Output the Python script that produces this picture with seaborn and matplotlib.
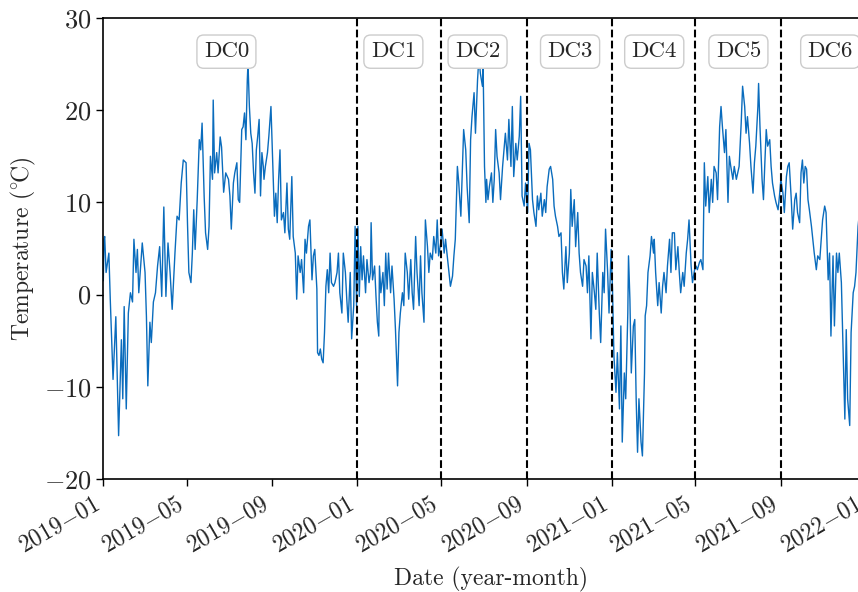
import numpy as np
import pandas as pd
import matplotlib
matplotlib.use('Agg')
import matplotlib.pyplot as plt
import matplotlib.dates as mdates
from matplotlib.ticker import FuncFormatter
import seaborn as sns

# ── DATA ─────────────────────────────────────────────────────
start_date = '2019-01-01'

# days since start_date
day_offset = [
    0, 1, 2, 4, 8, 10, 14, 18, 22, 26, 28, 30, 33, 36, 39, 42, 44, 47, 49, 51,
    56, 60, 62, 64, 67, 69, 72, 75, 78, 81, 84, 87, 90, 93, 96, 99, 103, 106, 109, 112,
    115, 119, 121, 123, 126, 128, 130, 132, 135, 138, 140, 142, 145, 147, 150, 152, 154, 157, 158, 160,
    163, 165, 168, 170, 173, 176,
    180, 182, 184, 187, 189, 192, 194, 196, 199, 201, 203, 205, 207, 208, 210, 212, 214, 216, 218, 220,
    222, 224, 226, 228, 230, 231, 233, 236, 238, 241, 243, 246, 248, 250, 252, 254, 256, 259, 261, 264,
    266, 268, 271, 273, 276, 278, 280, 283, 285, 288, 290, 292, 295, 297, 300, 302, 304, 307, 308, 310,
    312, 314, 316, 318, 320, 322, 324, 326, 328, 331, 333, 336, 338, 340, 343, 345, 348, 350, 352, 355,
    357, 360,
    362, 364, 366, 368, 370, 372, 374, 377, 379, 382, 384, 385, 387, 390, 392, 394, 396, 397, 399, 402,
    404, 406, 408, 410, 413, 415, 418, 420, 423, 425, 427, 430, 432, 434, 437, 439, 442, 444, 446, 449,
    451, 454, 456, 458, 461, 463, 466, 468, 470, 473, 475, 478, 480, 482, 485, 487, 490, 492, 494, 497,
    499, 502, 504, 506, 509, 511, 514, 516, 518, 521, 523, 526, 528, 530, 533, 535, 538, 540,
    542, 545, 546, 548, 550, 551, 553, 555, 558, 560, 562, 564, 566, 569, 571, 574, 576, 578, 581, 583,
    586, 588, 590, 593, 595, 598, 600, 602, 605, 607, 610, 612, 614, 617, 619, 622, 624, 626, 629, 631,
    634, 636, 638, 641, 643, 646, 648, 650, 653, 655, 658, 660, 662, 665, 667, 670, 672, 674, 677, 679,
    682, 684, 686, 689, 691, 694, 696, 698, 701, 703, 706, 708, 710, 713, 715, 718, 720,
    722, 725, 727, 730, 732, 734, 737, 739, 742, 744, 746, 749, 751, 754, 755, 757, 759, 762, 764, 766,
    768, 770, 773, 775, 778, 779, 781, 783, 786, 788, 791, 792, 794, 797, 799, 802, 804, 806, 809, 811,
    814, 816, 818, 821, 823, 826, 828, 830, 833, 835, 838, 840, 842, 845, 847, 850, 852, 854, 857, 859,
    862, 864, 866, 869, 871, 874, 876, 878, 881, 883, 886, 888, 890, 893, 895, 898, 900,
    902, 905, 907, 910, 912, 914, 917, 919, 922, 924, 926, 929, 931, 934, 936, 938, 941, 942, 944, 947,
    949, 951, 953, 955, 958, 960, 962, 965, 967, 970, 972, 974, 977, 979, 982, 984, 986, 989, 991, 994,
    996, 998, 1001, 1003, 1005, 1007, 1009, 1011, 1013, 1015, 1018, 1020, 1022, 1025, 1027, 1030, 1032, 1034, 1037, 1039,
    1042, 1044, 1046, 1049, 1051, 1054, 1056, 1058, 1061, 1063, 1066, 1068, 1070, 1073, 1075, 1078, 1080, 1082, 1085, 1087,
]

temp_c = [
    1.5, 6.0, 6.3, 2.4, 4.5, -0.5, -9.2, -2.4, -15.3, -4.9, -11.3, -1.3, -12.4, -2.0, 0.2, -0.8, 6.0, 2.4, 4.9, 0.2,
    5.6, 2.4, -2.4, -9.9, -3.0, -5.2, -0.8, 0.2, 3.1, 5.2, -0.2, 9.5, -0.2, 5.6, 2.4, -1.6, 4.5, 8.5, 8.1, 12.1,
    14.6, 14.3, 7.8, 2.4, 1.3, 4.5, 9.2, 4.9, 10.3, 16.8, 15.7, 18.6, 10.6, 6.7, 4.9, 7.4, 15.0, 12.5, 21.1, 13.2,
    15.4, 13.2, 17.1, 16.0, 11.1, 13.2,
    12.5, 10.7, 7.1, 12.1, 13.2, 14.3, 10.3, 10.0, 17.9, 18.2, 19.7, 16.8, 23.3, 25.1, 20.4, 17.5, 16.4, 13.2, 11.0, 15.7,
    17.2, 19.0, 10.7, 15.4, 13.9, 12.5, 13.9, 15.4, 17.2, 20.4, 15.7, 8.5, 11.0, 7.8, 12.5, 15.7, 8.1, 8.9, 6.7, 12.1,
    7.1, 6.0, 12.8, 6.3, 4.5, -0.5, 4.2, 2.4, 3.8, 0.2, 6.0, 4.5, 7.4, 8.1, 1.6, 4.2, 4.9, 0.6, -6.3, -6.6,
    -5.9, -7.0, -7.4, -4.1, 0.9, 2.7, 0.2, 4.5, 1.3, 0.9, 1.3, 2.4, 4.5, 0.2, -2.0, 4.5, 2.4, -0.5, -3.0, 2.4,
    -4.8, -1.2,
    7.4, -1.2, 7.4, -0.2, 5.2, 1.6, 4.2, 0.2, 3.8, 1.3, 2.4, 7.8, 1.6, 3.1, -0.2, -3.0, -4.5, 3.1, 0.2, 2.4,
    -1.2, 4.5, 0.6, 4.5, 0.2, 3.1, -0.5, -3.8, -9.9, -4.1, -2.0, 0.2, -1.2, 4.5, 2.4, -0.5, 3.8, 0.2, -1.6, 6.3,
    2.4, -1.2, 4.2, 0.2, -3.0, 8.1, 5.2, 2.4, 4.5, 3.8, 6.3, 4.5, 8.1, 4.2, 5.6, 7.1, 4.5, 6.0, 4.5, 2.4,
    0.9, 2.0, 4.2, 6.0, 13.9, 12.1, 8.5, 13.2, 17.9, 15.7, 11.7, 7.8, 16.8, 19.3, 21.9, 17.5, 23.3, 25.8,
    24.0, 22.6, 24.7, 13.9, 10.0, 12.5, 10.3, 11.7, 13.2, 10.0, 12.5, 17.9, 15.0, 13.2, 10.3, 13.9, 15.7, 17.5, 14.6, 19.0,
    13.9, 20.4, 12.8, 16.4, 14.6, 17.2, 21.5, 10.7, 9.6, 12.1, 8.9, 16.4, 15.7, 10.3, 8.9, 7.4, 10.7, 9.2, 11.0, 8.5,
    10.3, 8.9, 11.7, 13.6, 13.9, 12.5, 9.6, 8.5, 7.4, 6.3, 6.7, 2.4, 0.6, 5.2, 1.3, 4.5, 11.4, 7.4, 10.3, 5.2,
    8.9, 4.5, 2.4, 0.9, 3.8, 3.1, 0.2, 4.2, -4.8, 2.4, 0.2, -1.6, 4.5, -2.0, -5.2, 2.4, 0.2,
    7.1, 2.4, -2.0, 4.9, 0.6, -6.6, -10.6, -6.3, -12.4, -3.4, -16.0, -8.5, -11.3, -2.0, 4.2, -0.5, -8.5, -3.4, -2.7, -11.3,
    -17.1, -11.3, -16.0, -17.5, -8.5, -2.3, -1.2, 2.4, 4.2, 6.3, 4.5, 6.0, 2.4, -1.2, 1.3, -2.0, 0.9, 2.4, 0.2, 3.1,
    6.0, 2.4, 6.7, 6.7, 2.7, 5.2, 2.4, 0.2, 2.4, 0.9, 4.5, 6.0, 8.1, 3.1, 1.3, 2.7, 3.1, 2.7, 3.5, 3.8,
    2.7, 14.3, 9.6, 12.8, 8.9, 12.5, 10.0, 13.9, 13.2, 10.3, 18.2, 20.4, 18.2, 15.4, 17.9, 10.0, 15.0,
    13.9, 12.5, 13.9, 12.5, 13.2, 13.9, 18.6, 22.6, 20.4, 17.5, 19.3, 16.4, 13.9, 11.0, 14.3, 16.1, 20.4, 22.9, 18.2, 12.5,
    10.3, 14.3, 17.9, 16.1, 16.8, 13.9, 12.1, 10.7, 10.0, 9.2, 10.7, 12.5, 11.0, 8.9, 12.8, 13.9, 14.3, 10.3, 7.1, 10.3,
    11.0, 8.9, 7.8, 13.2, 14.6, 12.1, 13.9, 13.6, 10.3, 9.2, 7.4, 6.0, 4.5, 2.7, 4.2, 3.8, 6.0, 8.1, 9.6, 8.9,
    1.6, 4.5, -4.5, 4.2, -3.4, 4.5, 2.4, 4.5, 1.3, -4.8, -13.5, -3.8, -11.3, -14.2, -4.1, 0.2, 0.9, 2.4, 7.4, 8.9,
]

# data-collection periods
boundaries = ['2020-01-01', '2020-05-01', '2020-09-01',
              '2021-01-01', '2021-05-01', '2021-09-01']
dc_names = ['DC0', 'DC1', 'DC2', 'DC3', 'DC4', 'DC5', 'DC6']
dc_label_dates = ['2019-06-27', '2020-02-22', '2020-06-22', '2020-11-02',
                  '2021-03-03', '2021-07-02', '2021-11-11']

x_range = ['2019-01-01', '2022-01-20']

df = pd.DataFrame({
    'date': pd.Timestamp(start_date) + pd.to_timedelta(day_offset, unit='D'),
    'temp': temp_c,
})

# ── STYLE ────────────────────────────────────────────────────
sns.set_style('ticks')
plt.rcParams['font.family'] = ['cmr10', 'DejaVu Serif']
plt.rcParams['mathtext.fontset'] = 'cm'
plt.rcParams['axes.formatter.use_mathtext'] = True
plt.rcParams['axes.unicode_minus'] = True
plt.rcParams['xtick.direction'] = 'out'
plt.rcParams['ytick.direction'] = 'out'

fig = plt.figure(figsize=(8.58, 5.92), dpi=100)
# axes run past the right edge of the figure (the reference is cropped there)
ax = fig.add_axes([0.1204, 0.1909, 0.9040, 0.7787])

sns.lineplot(data=df, x='date', y='temp', ax=ax, color='#0a6cbd', linewidth=1.0)

for b in boundaries:
    ax.axvline(pd.Timestamp(b), color='black', linestyle='--', linewidth=1.5)

for name, d in zip(dc_names, dc_label_dates):
    ax.text(pd.Timestamp(d), 0.927, name, transform=ax.get_xaxis_transform(),
            ha='center', va='center', fontsize=16.5,
            bbox=dict(boxstyle='round,pad=0.3', facecolor='white',
                      edgecolor='0.8', linewidth=1.0))

ax.set_xlim(pd.Timestamp(x_range[0]), pd.Timestamp(x_range[1]))
ax.set_ylim(-20, 30)
ax.set_yticks([-20, -10, 0, 10, 20, 30])

ax.xaxis.set_major_locator(mdates.MonthLocator(bymonth=[1, 5, 9]))
ax.xaxis.set_major_formatter(FuncFormatter(
    lambda v, pos: r'$\mathrm{%s}$' % mdates.num2date(v).strftime('%Y{-}%m')))
plt.setp(ax.get_xticklabels(), rotation=30, ha='right')

ax.tick_params(length=5, width=1.0, color='black')
ax.tick_params(axis='y', labelsize=19)
ax.tick_params(axis='x', labelsize=17, pad=5)
for s in ax.spines.values():
    s.set_color('black')
    s.set_linewidth(1.2)

ax.set_xlabel('Date (year-month)', fontsize=17, labelpad=7)
ax.set_ylabel(r'Temperature (${}^{\circ}\!$C)', fontsize=17)

fig.savefig('out.png', dpi=100)
